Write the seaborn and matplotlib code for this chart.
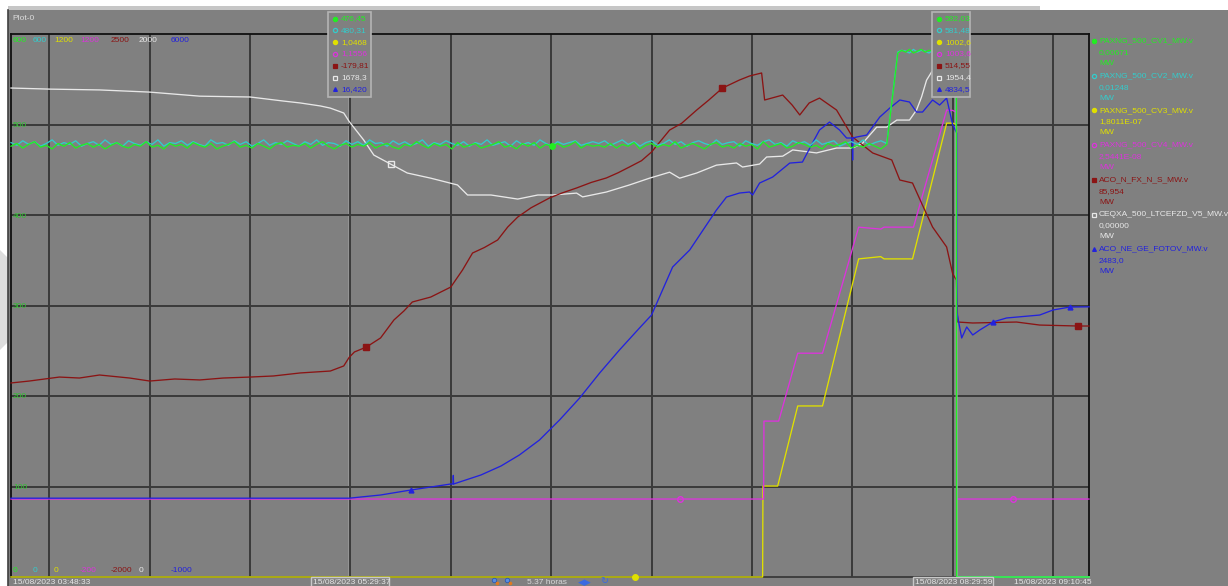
import numpy as np
import pandas as pd
import seaborn as sns
import matplotlib.pyplot as plt
from matplotlib.patches import Rectangle, Polygon

W, H = 1228, 586
DAY = "2023-08-15 "


def ts(lst):
    return pd.to_datetime([DAY + s for s in lst])


t_start, t_end = "03:48:33", "09:10:45"
cursor_times = ["05:29:37", "08:29:59"]

series_names = ["PAXNG_500_CV1_MW.v", "PAXNG_500_CV2_MW.v", "PAXNG_500_CV3_MW.v",
                "PAXNG_500_CV4_MW.v", "ACO_N_FX_N_S_MW.v", "CEQXA_500_LTCEFZD_V5_MW.v",
                "ACO_NE_GE_FOTOV_MW.v"]
colors = ["#22ee22", "#33cccc", "#e0e000", "#dd33dd", "#8b1414", "#e8e8e8", "#2222dd"]
top_labels = ["600", "600", "1200", "1200", "2500", "2000", "6000"]
bottom_labels = ["0", "0", "0", "-200", "-2000", "0", "-1000"]
last_values = ["0,00671", "0,01248", "1,8011E-07", "2,5441E-08", "85,954", "0,00000", "2483,0"]
units = ["MW"] * 7
cursor1_vals = ["476,45", "480,31", "1,0468", "1,1556", "-179,81", "1678,3", "16,420"]
cursor2_vals = ["582,03", "581,48", "1002,6", "1003,6", "514,55", "1954,4", "4834,5"]
markers = ["o", "o", "o", "o", "s", "s", "^"]
filled = [True, False, True, False, True, False, True]
bottom_times = ["15/08/2023 03:48:33", "15/08/2023 05:29:37", "15/08/2023 08:29:59",
                "15/08/2023 09:10:45"]
span_label = "5.37 horas"

# CV1 (green)
green_noise = [476, 479, 474, 478, 481, 475, 477, 473, 479, 476, 480, 474, 477, 479, 475, 478, 473, 477, 480, 476,
               474, 478, 476, 481, 475, 477, 473, 479, 476, 478, 474, 480, 477, 475, 479, 473, 476, 478, 481, 475,
               477, 474, 479, 476, 473, 478, 480, 475, 477, 476, 479, 474, 478, 481, 476, 473, 477, 479, 475, 478,
               476, 480, 474, 477, 479, 475, 473, 478, 476, 481, 477, 474, 479, 476, 478, 473, 480, 475, 477, 479,
               474, 476, 478, 481, 475, 477, 473, 479, 476, 480, 474, 478, 476, 479, 475, 477, 481, 474, 478, 476,
               477, 475, 479, 474, 478, 476, 480, 473, 477, 479, 475, 478, 476, 481, 474, 477, 479, 476, 473, 478,
               480, 475, 477, 474, 479, 476, 478, 473, 481, 475, 477, 479, 474, 476, 480, 478, 475, 477, 473, 479,
               476, 478, 481, 474, 477, 475, 479, 476, 473, 478]
green_top = [579, 582, 580, 583, 579, 581, 583, 580, 582, 581, 583, 579, 582, 580, 583, 582]
# CV2 (cyan)
cyan_noise = [480, 477, 482, 478, 481, 476, 479, 483, 477, 480, 478, 482, 476, 479, 481, 477, 483, 478, 480, 476,
              482, 479, 477, 481, 478, 483, 476, 480, 479, 482, 477, 481, 478, 476, 483, 479, 480, 477, 482, 478,
              481, 476, 479, 483, 477, 480, 478, 482, 479, 476, 481, 478, 483, 477, 480, 479, 476, 482, 478, 481,
              477, 483, 479, 480, 476, 482, 478, 481, 477, 479, 483, 476, 480, 478, 482, 479, 477, 481, 476, 480,
              478, 483, 477, 479, 481, 476, 482, 478, 480, 477, 483, 479, 476, 481, 478, 480, 482, 477, 479, 481,
              479, 482, 477, 480, 483, 478, 481, 476, 480, 482, 477, 479, 483, 478, 481, 476, 480, 482, 479, 477,
              483, 478, 480, 481, 476, 482, 479, 477, 481, 483, 478, 480, 476, 482, 479, 481, 477, 483, 478, 480,
              482, 476, 479, 481, 478, 483, 477, 480, 482, 479]
cyan_top = [580, 582, 581, 579, 583, 580, 582, 581, 579, 582, 580, 583, 581, 579, 582, 581]
drop_t = ["08:31:12", "09:10:45"]
drop_v = [0, 0]

# CV3 (yellow)
yellow_t = ["03:48:33", "06:55:00", "07:33:12", "07:33:18", "07:37:42", "07:43:42", "07:51:06", "08:01:54",
            "08:08:30", "08:09:30", "08:18:00", "08:28:12", "08:30:00", "08:31:06", "08:31:12", "09:10:45"]
yellow_v = [0, 0, 0, 201, 201, 378, 378, 703, 708, 703, 703, 1003, 1003, 1000, 0, 0]

# CV4 (magenta)
magenta_t = ["03:48:33", "07:08:24", "07:33:30", "07:33:36", "07:38:00", "07:43:42", "07:51:06", "08:01:54",
             "08:08:30", "08:09:30", "08:18:18", "08:28:12", "08:30:00", "08:31:06", "08:31:12", "08:47:54",
             "09:10:45"]
magenta_v = [1, 1, 1, 202, 202, 377, 377, 702, 697, 702, 702, 1004, 1003, 998, 1, 1, 1]

# ACO_N_FX_N_S (brown)
brown_t = ["03:48:33", "03:54:00", "04:03:00", "04:09:00", "04:15:00", "04:24:00", "04:30:00", "04:37:30",
           "04:45:00", "04:52:00", "05:00:00", "05:07:00", "05:15:00", "05:24:00", "05:28:00", "05:29:37",
           "05:31:12", "05:34:48", "05:39:00", "05:43:00", "05:46:00", "05:48:30", "05:54:00", "06:00:00",
           "06:03:30", "06:06:30", "06:10:00", "06:14:00", "06:17:00", "06:20:00", "06:24:00", "06:29:30",
           "06:33:00", "06:37:36", "06:42:00", "06:46:30", "06:50:00", "06:53:24", "06:57:00", "07:00:00",
           "07:05:24", "07:09:00", "07:13:30", "07:17:00", "07:21:12", "07:26:18", "07:29:18", "07:32:54",
           "07:33:48", "07:39:12", "07:42:00", "07:44:18", "07:47:06", "07:50:12", "07:55:18", "08:00:06",
           "08:06:06", "08:11:48", "08:14:12", "08:18:00", "08:20:42", "08:24:00", "08:28:12", "08:29:59",
           "08:31:06", "08:31:30", "08:36:00", "08:49:06", "08:56:00", "09:07:24", "09:10:45"]
brown_v = [-392, -376, -343, -351, -326, -351, -376, -359,
           -367, -351, -343, -334, -309, -293, -251, -180,
           -135, -94, -19, 130, 205, 279, 320, 403,
           544, 685, 730, 793, 900, 983, 1060, 1141,
           1180, 1224, 1270, 1307, 1350, 1398, 1450, 1522,
           1704, 1760, 1870, 1950, 2052, 2119, 2152, 2177,
           1953, 1994, 1912, 1829, 1928, 1969, 1870, 1646,
           1514, 1456, 1290, 1265, 1099, 900, 735, 515,
           461, 113, 105, 113, 88, 80, 80]

# CEQXA_500_LTCEFZD_V5 (white)
white_t = ["03:48:33", "04:00:00", "04:15:00", "04:30:00", "04:45:00", "05:00:00", "05:10:00", "05:15:00",
           "05:21:00", "05:24:00", "05:28:00", "05:29:37", "05:34:00", "05:37:00", "05:42:00", "05:47:00",
           "05:54:00", "06:02:00", "06:05:00", "06:12:00", "06:20:00", "06:26:00", "06:30:24", "06:37:36",
           "06:39:24", "06:46:30", "06:53:24", "06:59:24", "07:05:24", "07:08:24", "07:13:30", "07:19:24",
           "07:25:24", "07:27:12", "07:32:18", "07:34:24", "07:39:12", "07:42:12", "07:49:18", "07:55:18",
           "08:00:06", "08:03:06", "08:07:18", "08:10:18", "08:13:18", "08:17:06", "08:19:12", "08:20:42",
           "08:22:12", "08:23:42", "08:26:06", "08:29:59", "08:31:06", "08:31:12", "09:10:45"]
white_v = [1801, 1797, 1794, 1786, 1771, 1768, 1753, 1746,
           1735, 1727, 1709, 1678, 1609, 1554, 1521, 1488,
           1469, 1444, 1407, 1407, 1392, 1407, 1407, 1414,
           1400, 1418, 1444, 1469, 1491, 1469, 1488, 1517,
           1525, 1510, 1521, 1547, 1550, 1573, 1562, 1580,
           1580, 1598, 1657, 1657, 1683, 1683, 1720, 1768,
           1830, 1860, 1897, 1954, 1955, 0, 0]

# ACO_NE_GE_FOTOV (blue)
blue_t = ["03:48:33", "05:29:37", "05:39:00", "05:48:00", "06:00:00", "06:00:40", "06:00:45", "06:00:50",
          "06:09:00", "06:15:00", "06:20:30", "06:26:30", "06:32:30", "06:38:30", "06:44:30", "06:50:24",
          "06:56:24", "07:00:00", "07:06:18", "07:11:24", "07:19:24", "07:22:24", "07:26:18", "07:29:18",
          "07:30:12", "07:32:18", "07:36:12", "07:41:18", "07:45:06", "07:48:06", "07:50:12", "07:53:12",
          "07:56:12", "07:58:18", "08:00:00", "08:00:06", "08:00:12", "08:01:18", "08:04:18", "08:08:12",
          "08:11:12", "08:14:12", "08:17:06", "08:19:12", "08:21:00", "08:24:00", "08:26:06", "08:28:12",
          "08:29:59", "08:31:12", "08:31:18", "08:32:42", "08:34:12", "08:36:00", "08:38:06", "08:42:00",
          "08:46:06", "08:56:00", "09:00:00", "09:05:00", "09:10:45"]
blue_v = [16, 16, 57, 121, 199, 199, 310, 199,
          315, 431, 573, 766, 1024, 1307, 1630, 1926,
          2210, 2377, 2996, 3215, 3731, 3898, 3950, 3963,
          3924, 4079, 4156, 4336, 4349, 4594, 4762, 4865,
          4762, 4659, 4659, 4375, 4659, 4672, 4697, 4929,
          5045, 5149, 5123, 4994, 4994, 5149, 5084, 5174,
          4835, 4723, 2403, 2081, 2223, 2120, 2184, 2287,
          2339, 2377, 2442, 2480, 2483]

# build full series
green_tt = (pd.date_range(DAY + "03:48:33", DAY + "08:10:18", periods=len(green_noise))
            .append(pd.date_range(DAY + "08:13:36", DAY + "08:31:06", periods=len(green_top)))
            .append(ts(drop_t)))
green_vv = green_noise + green_top + drop_v
cyan_tt = (pd.date_range(DAY + "03:48:33", DAY + "08:10:18", periods=len(cyan_noise))
           .append(pd.date_range(DAY + "08:13:36", DAY + "08:31:06", periods=len(cyan_top)))
           .append(ts(drop_t)))
cyan_vv = cyan_noise + cyan_top + drop_v

data = [
    (green_tt, green_vv, ["06:29:30"]),
    (cyan_tt, cyan_vv, []),
    (ts(yellow_t), yellow_v, ["06:55:00"]),
    (ts(magenta_t), magenta_v, ["07:08:24", "08:47:54"]),
    (ts(brown_t), brown_v, ["05:34:48", "07:21:12", "09:07:24"]),
    (ts(white_t), white_v, ["05:42:00"]),
    (ts(blue_t), blue_v, ["05:48:00", "08:42:00", "09:05:00"]),
]
draw_order = [2, 3, 5, 4, 6, 1, 0]

plt.rcParams["font.family"] = ["Liberation Sans", "DejaVu Sans"]
fig = plt.figure(figsize=(W / 100, H / 100), dpi=100)
fig.patch.set_facecolor("white")

# window background
bg = fig.add_axes([0, 0, 1, 1], zorder=0)
bg.set_xlim(0, W)
bg.set_ylim(H, 0)
bg.axis("off")
bg.add_patch(Rectangle((8, 10), W - 8, H - 10, facecolor="#808080", edgecolor="none"))
bg.add_patch(Rectangle((8, 6), 1032, 4, facecolor="#c6c6c6", edgecolor="none"))
bg.add_patch(Polygon([(0, 250), (8, 258), (8, 342), (0, 350)], facecolor="#dcdcdc", edgecolor="none"))
bg.plot([8, 8], [10, H], color="#404040", lw=1.2)

host = fig.add_axes([11 / W, 9 / H, 1078 / W, 543 / H], zorder=1)
host.set_facecolor("#808080")
host.xaxis_date()
host.set_ylim(0, 600)

for k, i in enumerate(draw_order):
    t, v, mt = data[i]
    tw = host.twinx()
    tw.set_zorder(2 + k)
    tw.patch.set_visible(False)
    idx = [int(np.argmin(np.abs((t - pd.Timestamp(DAY + m)).total_seconds()))) for m in mt]
    kw = {}
    if idx:
        kw = dict(marker=markers[i], markevery=idx, ms=4 if markers[i] != "^" else 3.5,
                  mec=colors[i], mfc=colors[i] if filled[i] else "none", mew=1)
    sns.lineplot(x=t, y=v, ax=tw, color=colors[i], lw=0.95, estimator=None, sort=False,
                 clip_on=False, **kw)
    tw.set_ylim(float(bottom_labels[i]), float(top_labels[i]))
    tw.set_axis_off()

host.set_xlim(pd.Timestamp(DAY + t_start), pd.Timestamp(DAY + t_end))
host.set_xticks(pd.date_range(DAY + "04:00", DAY + "09:00", freq="30min"))
host.set_yticks([100, 200, 300, 400, 500])
host.grid(True, color="#3a3a3a", lw=1.4)
host.tick_params(axis="x", length=0, labelbottom=False)
host.tick_params(axis="y", length=0, pad=-1.5, labelsize=6, labelcolor="#30c030")
for lab in host.get_yticklabels():
    lab.set_horizontalalignment("left")
host.set_xlabel("")
host.set_ylabel("")
for s in host.spines.values():
    s.set_color("#111111")
    s.set_linewidth(1.3)
host.spines["bottom"].set_color("#3a3a3a")

# cursor lines
host.axvline(pd.Timestamp(DAY + cursor_times[0]), color="#e8e8e8", lw=1.0, zorder=1)
host.axvline(pd.Timestamp(DAY + cursor_times[1]), color="#d4d4d4", lw=1.4, zorder=1)

# overlay texts in pixel coordinates
ov = fig.add_axes([0, 0, 1, 1], zorder=30)
ov.set_xlim(0, W)
ov.set_ylim(H, 0)
ov.axis("off")
fs = 6

ov.text(12, 18, "Plot-0", color="#dcdcdc", fontsize=fs, va="center")

scale_x = [13, 33, 54, 80, 111, 139, 171]
for i in range(7):
    ov.text(scale_x[i], 40, top_labels[i], color=colors[i], fontsize=fs, va="center")
    ov.text(scale_x[i], 571, bottom_labels[i], color=colors[i], fontsize=fs, va="center")


def mark(x, y, i, ms=3.5):
    ov.plot(x, y, marker=markers[i], ms=ms if markers[i] != "^" else ms - 0.3,
            color=colors[i], mfc=colors[i] if filled[i] else "none", mew=0.9, ls="none")


# cursor readout boxes
for (bx, bw, vals) in [(328, 43, cursor1_vals), (932, 38, cursor2_vals)]:
    ov.add_patch(Rectangle((bx, 12), bw, 85, facecolor="#808080", edgecolor="#b4b4b4", lw=1.2))
    for i in range(7):
        y = 18.5 + 11.8 * i
        mark(bx + 7, y, i, ms=3)
        ov.text(bx + 13, y, vals[i], color=colors[i], fontsize=fs, va="center")

# right legend panel
for i in range(7):
    y0 = 41 + 34.7 * i
    mark(1094, y0, i, ms=3)
    ov.text(1099, y0, series_names[i], color=colors[i], fontsize=fs, va="center")
    ov.text(1099, y0 + 11.5, last_values[i], color=colors[i], fontsize=fs, va="center")
    ov.text(1099, y0 + 22.5, units[i], color=colors[i], fontsize=fs, va="center")

# bottom time strip
ov.text(13, 582, bottom_times[0], color="#e6e6e6", fontsize=fs, va="center")
for bx, bw, lab in [(311, 78, bottom_times[1]), (913, 80, bottom_times[2])]:
    ov.add_patch(Rectangle((bx, 577), bw, 12, facecolor="#808080", edgecolor="#c8c8c8", lw=1.0))
    ov.text(bx + 2, 582, lab, color="#e6e6e6", fontsize=fs, va="center")
ov.text(1014, 582, bottom_times[3], color="#e6e6e6", fontsize=fs, va="center")
ov.text(527, 582, span_label, color="#d8d8d8", fontsize=fs, va="center")
ov.plot([494, 507], [580, 580], "o", ms=3.2, color="#5a8ee0", mec="#2a5ab0", mew=0.6, ls="none")
ov.plot([497, 510], [583, 583], "o", ms=1.6, color="#e07a20", ls="none")
ov.text(578, 582, "◀▶", color="#3a6ae0", fontsize=6.5, va="center", family=["DejaVu Sans"])
ov.text(600, 581, "↻", color="#3a6ae0", fontsize=7, va="center", family=["DejaVu Sans"])

fig.savefig("out.png", dpi=100, facecolor=fig.get_facecolor())
